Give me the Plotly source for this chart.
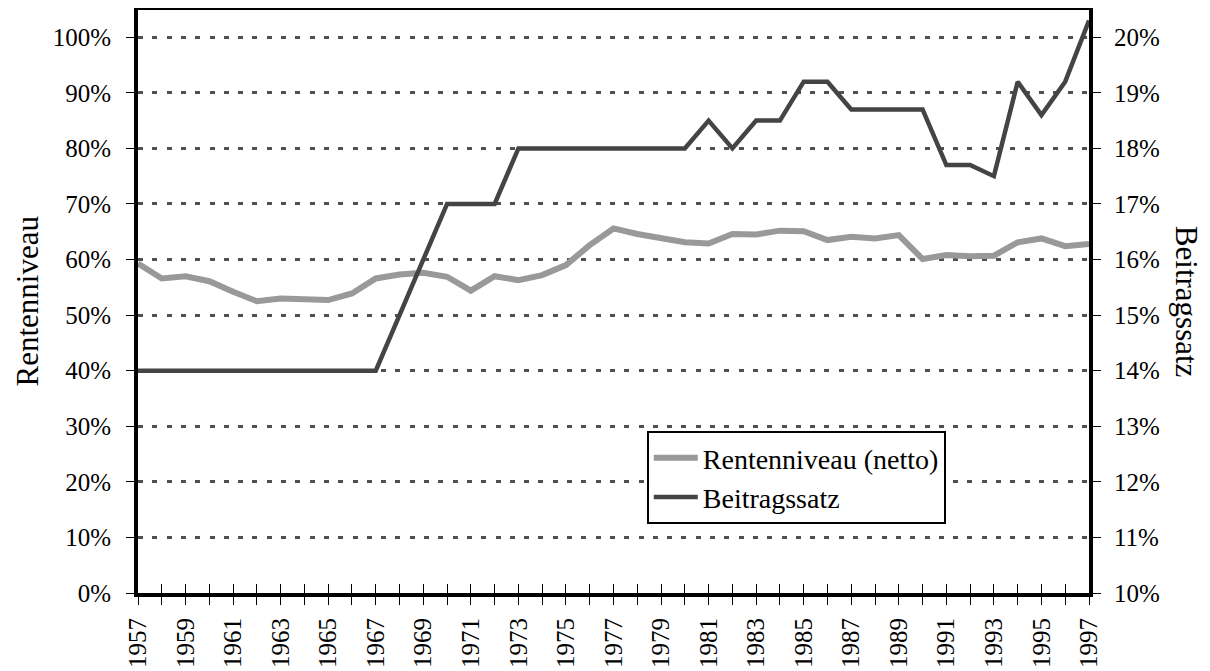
import plotly.graph_objects as go

years = list(range(1957, 1998))
rentenniveau = [59.3, 56.6, 57.0, 56.1, 54.2, 52.5, 53.0, 52.9, 52.7, 53.9,
                56.6, 57.3, 57.6, 56.9, 54.4, 57.0, 56.3, 57.2, 59.0, 62.6,
                65.6, 64.6, 63.8, 63.1, 62.9, 64.6, 64.5, 65.2, 65.1, 63.5,
                64.1, 63.8, 64.4, 60.1, 60.8, 60.6, 60.7, 63.1, 63.8, 62.4, 62.8]
beitragssatz = [14.0, 14.0, 14.0, 14.0, 14.0, 14.0, 14.0, 14.0, 14.0, 14.0,
                14.0, 15.0, 16.0, 17.0, 17.0, 17.0, 18.0, 18.0, 18.0, 18.0,
                18.0, 18.0, 18.0, 18.0, 18.5, 18.0, 18.5, 18.5, 19.2, 19.2,
                18.7, 18.7, 18.7, 18.7, 17.7, 17.7, 17.5, 19.2, 18.6, 19.2, 20.3]
left_ticks = [i / 10 for i in range(0, 11)]
right_ticks = [i / 100 for i in range(10, 21)]
x_labels = [str(y) if (y - 1957) % 2 == 0 else "" for y in years]

FONT = "Liberation Serif, Times New Roman, serif"

fig = go.Figure()
fig.add_trace(go.Scatter(
    x=years, y=[v / 100 for v in rentenniveau], mode="lines",
    name="Rentenniveau (netto)", line=dict(color="#999999", width=6),
    legendgroup="a"))
fig.add_trace(go.Scatter(
    x=years, y=[v / 100 for v in beitragssatz], mode="lines",
    name="Beitragssatz", line=dict(color="#444444", width=4.5),
    yaxis="y2", legendgroup="b"))
# helper trace for inside tick marks
fig.add_trace(go.Scatter(
    x=[years[0]], y=[0], mode="lines", line=dict(width=0),
    xaxis="x3", showlegend=False, hoverinfo="skip"))

fig.update_layout(
    template="none",
    width=1202, height=663,
    margin=dict(l=130, r=121, t=2, b=78, autoexpand=False),
    paper_bgcolor="white", plot_bgcolor="white",
    font=dict(family=FONT, size=25, color="black"),
    showlegend=True,
    legend=dict(x=0.535, y=0.278, xanchor="left", yanchor="top",
                bgcolor="white", bordercolor="black", borderwidth=2,
                font=dict(family=FONT, size=28, color="black"),
                tracegroupgap=0, itemwidth=44),
    xaxis=dict(range=[1957, 1997], tickvals=years, ticktext=x_labels,
               tickangle=-90, ticks="outside", ticklen=8, tickwidth=1,
               tickcolor="black", showline=True, linewidth=4,
               linecolor="black", mirror=True, showgrid=False,
               zeroline=False, ticklabelstandoff=3, automargin=False,
               tickfont=dict(family=FONT, size=25)),
    xaxis3=dict(range=[1957, 1997], overlaying="x", anchor="y",
                tickvals=years, ticks="inside", ticklen=9, tickwidth=1,
                tickcolor="black", showticklabels=False, showgrid=False,
                showline=False, zeroline=False, automargin=False),
    yaxis=dict(range=[0, 1.049], tickvals=left_ticks, tickformat=".0%",
               ticks="outside", ticklen=8, tickwidth=1, tickcolor="black",
               showline=True, linewidth=4, linecolor="black",
               showgrid=True, gridcolor="#505050", gridwidth=3,
               griddash="5px,9.3px", zeroline=False, automargin=False,
               ticklabelstandoff=10, tickfont=dict(family=FONT, size=25)),
    yaxis2=dict(range=[0.10, 0.2049], tickvals=right_ticks, tickformat=".0%",
                overlaying="y", side="right", anchor="x",
                ticks="outside", ticklen=8, tickwidth=1, tickcolor="black",
                showline=True, linewidth=4, linecolor="black",
                showgrid=False, zeroline=False, automargin=False,
                ticklabelstandoff=8, tickfont=dict(family=FONT, size=25)),
    annotations=[
        dict(text="Rentenniveau", xref="paper", yref="paper",
             x=-0.1167, y=0.5, textangle=-90, showarrow=False,
             xanchor="center", yanchor="middle",
             font=dict(family=FONT, size=31, color="black")),
        dict(text="Beitragssatz", xref="paper", yref="paper",
             x=1.1027, y=0.5, textangle=90, showarrow=False,
             xanchor="center", yanchor="middle",
             font=dict(family=FONT, size=31, color="black")),
    ],
)

fig.write_html("out.html")
